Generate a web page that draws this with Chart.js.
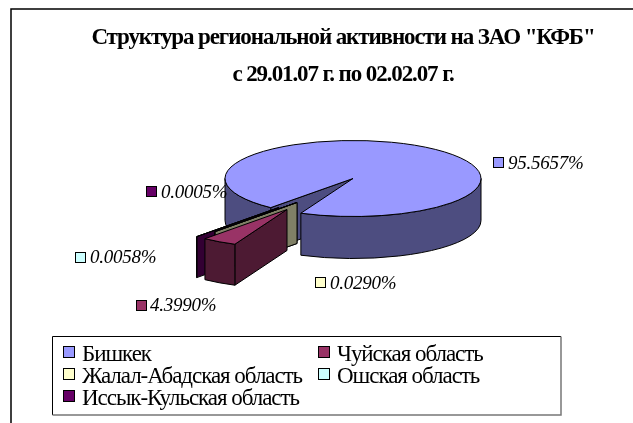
<!DOCTYPE html>
<html><head><meta charset="utf-8">
<style>html,body{margin:0;padding:0;background:#fff;width:633px;height:423px;overflow:hidden}
canvas{display:block}</style>
<script src="https://cdn.jsdelivr.net/npm/chart.js@4"></script></head>
<body><canvas id="c" width="633" height="423" style="width:633px;height:423px"></canvas>
<script>
const titleLines = ['Структура региональной активности на ЗАО "КФБ"', 'с 29.01.07 г. по 02.02.07 г.'];
const categories = ['Бишкек', 'Чуйская область', 'Жалал-Абадская область', 'Ошская область', 'Иссык-Кульская область'];
const values = [95.5657, 4.3990, 0.0290, 0.0058, 0.0005];
const topColors = ['#9999FF', '#993366', '#FFFFCC', '#CCFFFF', '#660066'];
const sideColors = ['#4D4D80', '#4D1A33', '#808066', '#668080', '#330033'];

const SERIF = '"Liberation Serif", "Times New Roman", serif';
const TILT = 0.297, DEPTH = 42, PIE_SHIFT = 10;
const explode = [[0, 0], [-66, 31], [-56, 24], [-56, 24], [-74, 29]];
const paintOrder = [0, 3, 4, 2, 1];
const labelPos = [[493, 157, 508, 169], [136, 300, 150, 311], [315, 277, 330, 289], [75, 252, 90, 263], [146, 186, 161, 198]];
const legendPos = [[63, 82, 361], [318, 337, 361], [63, 82, 383], [318, 337, 383], [63, 82, 405]];

const pie3d = {
  id: 'pie3d',
  beforeDraw(chart) {
    const ctx = chart.ctx;
    ctx.save();
    ctx.strokeStyle = '#000'; ctx.lineWidth = 1.5;
    ctx.beginPath(); ctx.moveTo(11, 423); ctx.lineTo(11, 9); ctx.lineTo(633, 9); ctx.stroke();
    ctx.restore();
    ctx.letterSpacing = '-1.1px';
  },
  beforeDatasetDraw(chart, args) {
    const ctx = chart.ctx, arcs = chart.getDatasetMeta(args.index).data;
    ctx.letterSpacing = '0px';
    paintOrder.forEach(i => {
      const arc = arcs[i];
      const { x, y, startAngle: s, endAngle: e, outerRadius: r } = arc;
      const [dx, dy] = explode[i];
      const cx = x + PIE_SHIFT + dx, cy = y + dy, ry = r * TILT;
      const d = i === 0 ? DEPTH : DEPTH - 1;
      ctx.save();
      ctx.lineWidth = 1; ctx.lineJoin = 'round'; ctx.strokeStyle = '#000';
      ctx.fillStyle = sideColors[i];
      const face = a => {
        const ox = cx + r * Math.cos(a), oy = cy + ry * Math.sin(a);
        ctx.beginPath(); ctx.moveTo(cx, cy); ctx.lineTo(ox, oy); ctx.lineTo(ox, oy + d); ctx.lineTo(cx, cy + d);
        ctx.closePath(); ctx.fill(); ctx.stroke();
      };
      if (Math.sin(s - Math.PI / 2) > 0) face(s);
      if (Math.sin(e + Math.PI / 2) > 0) face(e);
      for (let n = -1; n < 3; n++) {
        const a = Math.max(s, 2 * Math.PI * n), b = Math.min(e, 2 * Math.PI * n + Math.PI);
        if (b > a) {
          ctx.beginPath();
          ctx.ellipse(cx, cy, r, ry, 0, a, b);
          ctx.ellipse(cx, cy + d, r, ry, 0, b, a, true);
          ctx.closePath(); ctx.fill(); ctx.stroke();
        }
      }
      ctx.restore();
      ctx.save();
      ctx.translate(cx, cy); ctx.scale(1, TILT); ctx.translate(-x, -y);
      arc.draw(ctx);
      ctx.restore();
      ctx.save();
      ctx.lineWidth = 1; ctx.lineJoin = 'round'; ctx.strokeStyle = '#000';
      ctx.beginPath(); ctx.moveTo(cx, cy); ctx.ellipse(cx, cy, r, ry, 0, s, e); ctx.closePath(); ctx.stroke();
      ctx.restore();
    });
    return false;
  },
  afterDraw(chart) {
    const ctx = chart.ctx;
    ctx.save();
    ctx.textBaseline = 'alphabetic'; ctx.textAlign = 'left'; ctx.fillStyle = '#000';
    ctx.strokeStyle = '#000'; ctx.lineWidth = 1;
    // data labels
    ctx.font = 'italic 19px ' + SERIF; ctx.letterSpacing = '-0.25px';
    values.forEach((v, i) => {
      const [sx, sy, tx, ty] = labelPos[i];
      ctx.fillStyle = topColors[i]; ctx.fillRect(sx + .5, sy + .5, 10, 10);
      ctx.strokeRect(sx + .5, sy + .5, 10, 10);
      ctx.fillStyle = '#000'; ctx.fillText(v.toFixed(4) + '%', tx, ty);
    });
    // legend box
    ctx.lineWidth = 1;
    ctx.strokeStyle = '#000';
    ctx.beginPath(); ctx.moveTo(52.5, 415); ctx.lineTo(52.5, 336.5); ctx.lineTo(561, 336.5); ctx.stroke();
    ctx.lineWidth = 1.5; ctx.strokeStyle = '#777';
    ctx.beginPath(); ctx.moveTo(561, 336.5); ctx.lineTo(561, 415); ctx.lineTo(52.5, 415); ctx.stroke();
    ctx.lineWidth = 1; ctx.strokeStyle = '#000';
    ctx.font = '23px ' + SERIF; ctx.letterSpacing = '-1.05px';
    categories.forEach((name, i) => {
      const [sx, tx, ty] = legendPos[i];
      ctx.fillStyle = topColors[i]; ctx.fillRect(sx + .5, ty - 14.5, 11, 11);
      ctx.strokeRect(sx + .5, ty - 14.5, 11, 11);
      ctx.fillStyle = '#000'; ctx.fillText(name, tx, ty);
    });
    ctx.restore();
    ctx.letterSpacing = '0px';
  }
};

new Chart(document.getElementById('c'), {
  type: 'pie',
  data: { labels: categories, datasets: [{ data: values, backgroundColor: topColors, borderWidth: 0 }] },
  options: {
    responsive: false, animation: false, events: [],
    radius: 128, rotation: 220,
    layout: { padding: { left: 53, right: 0, top: 0, bottom: 160 } },
    plugins: {
      legend: { display: false }, tooltip: { enabled: false },
      title: { display: true, text: titleLines, color: '#000',
        font: { family: SERIF, size: 23, weight: 'bold', lineHeight: 37 / 23 },
        padding: { top: 20, bottom: 0 } }
    }
  },
  plugins: [pie3d]
});
</script></body></html>
